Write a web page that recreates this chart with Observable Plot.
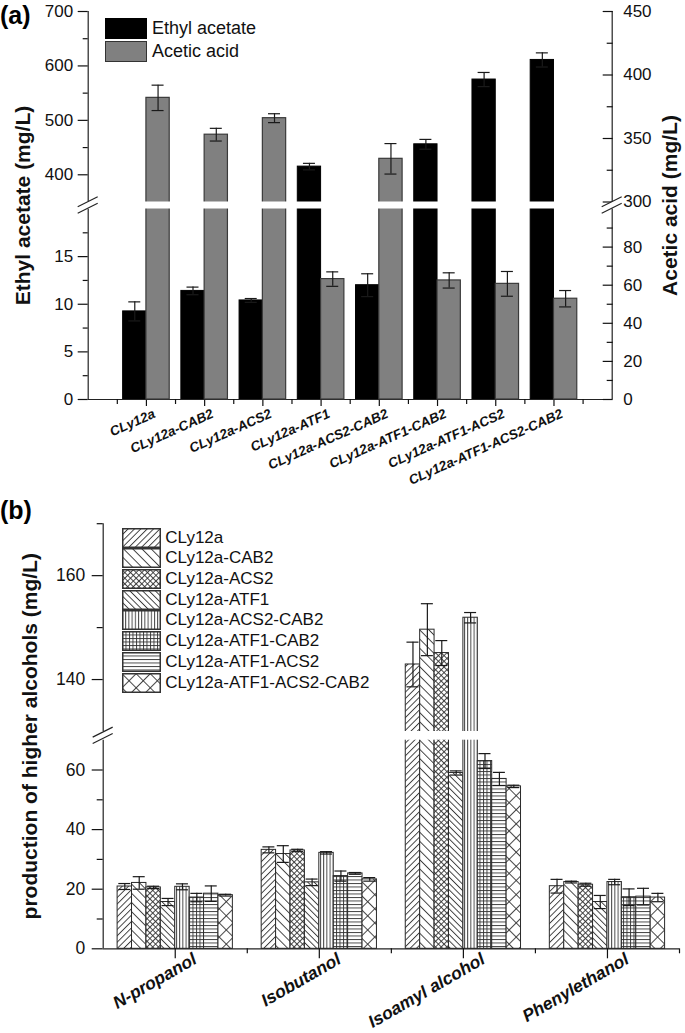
<!DOCTYPE html>
<html><head><meta charset="utf-8">
<script src="https://cdn.jsdelivr.net/npm/d3@7"></script>
<script src="https://cdn.jsdelivr.net/npm/@observablehq/plot@0.6"></script>
<style>
body{margin:0;background:#fff;}
#wrap{position:relative;width:685px;height:1033px;font-family:"Liberation Sans",Arial,sans-serif;overflow:hidden;background:#fff;}
.layer{position:absolute;left:0;}
.plabel{position:absolute;font-weight:bold;font-size:25px;line-height:1;}
.lg{position:absolute;font-size:18px;color:#111;}
.lg .row{position:absolute;left:0;display:flex;align-items:center;white-space:nowrap;}
.lg .sw{box-sizing:border-box;border:1.5px solid #333;margin-right:5px;}
</style></head><body>
<div id="wrap">
<svg width="0" height="0" style="position:absolute">
<defs>
<pattern id="p0" patternUnits="userSpaceOnUse" width="4.5" height="4.5" patternTransform="rotate(45)"><rect width="4.5" height="4.5" fill="#fff"/><line x1="0.5" y1="0" x2="0.5" y2="4.5" stroke="#333" stroke-width="0.9"/></pattern>
<pattern id="p1" patternUnits="userSpaceOnUse" width="6.5" height="6.5" patternTransform="rotate(-45)"><rect width="6.5" height="6.5" fill="#fff"/><line x1="0.5" y1="0" x2="0.5" y2="6.5" stroke="#333" stroke-width="0.9"/></pattern>
<pattern id="p2" patternUnits="userSpaceOnUse" width="4" height="4" patternTransform="rotate(45)"><rect width="4" height="4" fill="#fff"/><line x1="0.5" y1="0" x2="0.5" y2="4" stroke="#333" stroke-width="0.9"/><line x1="0" y1="0.5" x2="4" y2="0.5" stroke="#333" stroke-width="0.9"/></pattern>
<pattern id="p3" patternUnits="userSpaceOnUse" width="4.5" height="4.5" patternTransform="rotate(-45)"><rect width="4.5" height="4.5" fill="#fff"/><line x1="0.5" y1="0" x2="0.5" y2="4.5" stroke="#333" stroke-width="0.9"/></pattern>
<pattern id="p4" patternUnits="userSpaceOnUse" width="3.2" height="3.2"><rect width="3.2" height="3.2" fill="#fff"/><line x1="0.5" y1="0" x2="0.5" y2="3.2" stroke="#333" stroke-width="0.9"/></pattern>
<pattern id="p5" patternUnits="userSpaceOnUse" width="3.5" height="3.5"><rect width="3.5" height="3.5" fill="#fff"/><line x1="0.5" y1="0" x2="0.5" y2="3.5" stroke="#333" stroke-width="0.9"/><line x1="0" y1="0.5" x2="3.5" y2="0.5" stroke="#333" stroke-width="0.9"/></pattern>
<pattern id="p6" patternUnits="userSpaceOnUse" width="3.5" height="3.5"><rect width="3.5" height="3.5" fill="#fff"/><line x1="0" y1="0.5" x2="3.5" y2="0.5" stroke="#333" stroke-width="0.9"/></pattern>
<pattern id="p7" patternUnits="userSpaceOnUse" width="10" height="10" patternTransform="rotate(45)"><rect width="10" height="10" fill="#fff"/><line x1="0.5" y1="0" x2="0.5" y2="10" stroke="#333" stroke-width="0.9"/><line x1="0" y1="0.5" x2="10" y2="0.5" stroke="#333" stroke-width="0.9"/></pattern>
</defs>
</svg>
<div id="a1" class="layer" style="top:0"></div>
<div id="a2" class="layer" style="top:0"></div>
<div id="b1" class="layer" style="top:505px"></div>
<div class="plabel" style="left:0;top:3px">(a)</div>
<div class="plabel" style="left:0;top:498px">(b)</div>
<div id="legA" class="lg" style="left:105px;top:17.7px"></div>
<div id="legB" class="lg" style="left:122.3px;top:527.7px;font-size:17px"></div>
</div>
<script>
// ---------- data: panel (a) ----------
const strains = ["CLy12a","CLy12a-CAB2","CLy12a-ACS2","CLy12a-ATF1","CLy12a-ACS2-CAB2","CLy12a-ATF1-CAB2","CLy12a-ATF1-ACS2","CLy12a-ATF1-ACS2-CAB2"];
const ethylAcetate    = [9.25, 11.4, 10.4, 415, 12.0, 456, 575, 611];
const ethylAcetateErr = [1.0, 0.4, 0.2, 6, 1.2, 9, 13, 13];
const aceticAcid      = [382, 353, 366, 63.2, 334, 62.5, 60.7, 52.9];
const aceticAcidErr   = [10, 5, 3.5, 3.8, 12, 4, 6.5, 4.3];
const ethylTicks  = [0, 5, 10, 15, 400, 500, 600, 700];
const ethylMinor  = [2.5, 7.5, 12.5, 17.5, 450, 550, 650];
const aceticTicks = [0, 20, 40, 60, 80, 300, 350, 400, 450];
const aceticMinor = [10, 30, 50, 70, 90, 325, 375, 425];
const ethylBreak  = [20, 350];
const aceticBreak = [100, 300];
const seriesA = ["Ethyl acetate", "Acetic acid"];

// ---------- data: panel (b) ----------
const alcohols = ["N-propanol", "Isobutanol", "Isoamyl alcohol", "Phenylethanol"];
const nPropanol        = [20.9, 22.1, 20.6, 15.7, 20.8, 17.2, 18.5, 18.0];
const nPropanolErr     = [1.0, 2.1, 0.4, 1.2, 1.0, 1.4, 2.6, 0.3];
const isobutanol       = [33.2, 31.8, 33.0, 22.3, 32.2, 24.4, 25.3, 23.3];
const isobutanolErr    = [1.0, 2.8, 0.4, 1.1, 0.4, 1.7, 0.3, 0.6];
const isoamylAlcohol   = [142.9, 149.6, 145.1, 59.0, 151.9, 63.0, 57.0, 54.5];
const isoamylAlcoholErr= [4.3, 5.0, 2.4, 0.7, 1.0, 2.5, 2.2, 0.4];
const phenylethanol    = [21.0, 22.4, 21.5, 15.7, 22.4, 17.3, 17.5, 17.2];
const phenylethanolErr = [2.3, 0.3, 0.5, 2.2, 0.9, 2.8, 2.8, 1.4];
const alcoholTicks = [0, 20, 40, 60, 140, 160];
const alcoholMinor = [10, 30, 50, 150, 170];
const alcoholBreak = [70, 130];
const patterns = ["url(#p0)","url(#p1)","url(#p2)","url(#p3)","url(#p4)","url(#p5)","url(#p6)","url(#p7)"];

const FONT = '"Liberation Sans", Arial, sans-serif';

// ---------- panel (a) layout ----------
const AH = 505, AT = 11, AB = 399, AGT = 201.5, AGB = 208.5;
const aLeft = 87.7, aRight = 73.3;
const capA = 6 / ((685 - aLeft - aRight) / 9);

const ethylRows = strains.map((s, i) => ({strain: s, x1: i + 0.6, x2: i + 1, xc: i + 0.8, v: ethylAcetate[i], e: ethylAcetateErr[i]}));
const aceticRows = strains.map((s, i) => ({strain: s, x1: i + 1, x2: i + 1.4, xc: i + 1.2, v: aceticAcid[i], e: aceticAcidErr[i]}));
const centers = strains.map((s, i) => i + 1);
const bounds = d3.range(0, strains.length + 1).map(i => i + 0.5);

const commonA = {
  width: 685, height: AH, marginLeft: aLeft, marginRight: aRight, marginTop: AT, marginBottom: AH - AB,
  x: {type: "linear", domain: [0, strains.length + 1], axis: null}
};

function errMarks(rows, cap) {
  return [
    Plot.ruleX(rows, {x: "xc", y1: d => d.v - d.e, y2: d => d.v + d.e, stroke: "#1a1a1a", strokeWidth: 1.2}),
    Plot.ruleY(rows, {x1: d => d.xc - cap, x2: d => d.xc + cap, y: d => d.v + d.e, stroke: "#1a1a1a", strokeWidth: 1.2}),
    Plot.ruleY(rows, {x1: d => d.xc - cap, x2: d => d.xc + cap, y: d => d.v - d.e, stroke: "#1a1a1a", strokeWidth: 1.2})
  ];
}

const plotA1 = Plot.plot({
  ...commonA,
  style: {fontFamily: FONT, background: "white", color: "#111"},
  y: {type: "linear", domain: [0, ethylBreak[0], ethylBreak[1], 700], range: [AB, AGB, AGT, AT]},
  marks: [
    Plot.rect(ethylRows, {x1: "x1", x2: "x2", y1: 0, y2: "v", fill: "#000", stroke: "#000"}),
    ...errMarks(ethylRows, capA),
    Plot.ruleX([0], {y1: 0, y2: ethylBreak[0], stroke: "#222", strokeWidth: 1.2}),
    Plot.ruleX([0], {y1: ethylBreak[1], y2: 700, stroke: "#222", strokeWidth: 1.2}),
    Plot.ruleY([0], {stroke: "#222", strokeWidth: 1.2}),
    Plot.axisY({ticks: ethylTicks, tickSize: 10, tickPadding: 5, fontSize: 17, label: null, tickFormat: d => String(d), strokeWidth: 1.2}),
    Plot.axisY({ticks: ethylMinor, tickSize: 5, label: null, tickFormat: () => "", strokeWidth: 1.2}),
    Plot.axisX({ticks: centers, tickSize: 7, label: null, tickFormat: () => "", strokeWidth: 1.2}),
    Plot.axisX({ticks: centers, tickSize: 0, tickPadding: 13.6, label: null, tickFormat: i => strains[i - 1], tickRotate: -24, fontSize: 13.5, fontWeight: "bold", fontStyle: "italic", dx: 8, stroke: "none"}),
    Plot.axisX({ticks: bounds, tickSize: 5, label: null, tickFormat: () => "", strokeWidth: 1.2}),
    Plot.text(["Ethyl acetate (mg/L)"], {frameAnchor: "left", textAnchor: "middle", rotate: -90, dx: 23 - aLeft, fontSize: 21, fontWeight: "bold"})
  ]
});
document.getElementById("a1").appendChild(plotA1);

const plotA2 = Plot.plot({
  ...commonA,
  style: {fontFamily: FONT, background: "transparent", color: "#111"},
  y: {type: "linear", domain: [0, aceticBreak[0], aceticBreak[1], 450], range: [AB, AGB, AGT, AT]},
  marks: [
    Plot.rect(aceticRows, {x1: "x1", x2: "x2", y1: 0, y2: "v", fill: "#808080", stroke: "#3a3a3a", strokeWidth: 1.2}),
    ...errMarks(aceticRows, capA),
    Plot.rect([aceticBreak], {x1: -0.12, x2: strains.length + 1.1, y1: d => d[0], y2: d => d[1], fill: "white"}),
    Plot.ruleX([strains.length + 1], {y1: 0, y2: aceticBreak[0], stroke: "#222", strokeWidth: 1.2}),
    Plot.ruleX([strains.length + 1], {y1: aceticBreak[1], y2: 450, stroke: "#222", strokeWidth: 1.2}),
    Plot.axisY({anchor: "right", ticks: aceticTicks, tickSize: -10, tickPadding: 21, fontSize: 17, label: null, tickFormat: d => String(d), strokeWidth: 1.2}),
    Plot.axisY({anchor: "right", ticks: aceticMinor, tickSize: -6, label: null, tickFormat: () => "", strokeWidth: 1.2}),
    Plot.text(["Acetic acid (mg/L)"], {frameAnchor: "right", textAnchor: "middle", rotate: -90, dx: 669.5 - (685 - aRight), fontSize: 21, fontWeight: "bold"})
  ]
});
document.getElementById("a2").appendChild(plotA2);

function breakMarks(plot, xv, yLow, yHigh) {
  const sx = plot.scale("x"), sy = plot.scale("y");
  const X = sx.apply(xv), mid = (sy.apply(yLow) + sy.apply(yHigh)) / 2;
  const g = d3.select(plot).append("g").attr("stroke", "#222").attr("stroke-width", 1.2);
  g.append("polygon").attr("points", `${X-10},${mid+8} ${X+10},${mid-2} ${X+10},${mid-8} ${X-10},${mid+2}`).attr("fill", "white").attr("stroke", "none");
  for (const off of [-3.2, 3.2]) {
    g.append("line").attr("x1", X - 10).attr("y1", mid + off + 5).attr("x2", X + 10).attr("y2", mid + off - 5);
  }
}
breakMarks(plotA2, 0, aceticBreak[0], aceticBreak[1]);
breakMarks(plotA2, strains.length + 1, aceticBreak[0], aceticBreak[1]);

// legend (a)
const legA = document.getElementById("legA");
[["#000", "#000"], ["#808080", "#333"]].forEach(([f, s], i) => {
  const r = document.createElement("div");
  r.className = "row"; r.style.top = (i * 23.4) + "px"; r.style.height = "21px";
  r.innerHTML = `<div class="sw" style="width:42px;height:21px;background:${f};border-color:${s}"></div><span>${seriesA[i]}</span>`;
  legA.appendChild(r);
});

// ---------- panel (b) ----------
const BH = 528, BT = 18.2, BB = 443.3, BGT = 226, BGB = 234.7;
const bLeft = 102.7, bRight = 6;
const capB = 6 / ((685 - bLeft - bRight) / 4);
const alcoholValues = [nPropanol, isobutanol, isoamylAlcohol, phenylethanol];
const alcoholErrors = [nPropanolErr, isobutanolErr, isoamylAlcoholErr, phenylethanolErr];
const rowsB = [];
alcohols.forEach((a, g) => strains.forEach((s, j) => {
  const x1 = g + 0.1 + 0.1 * j;
  rowsB.push({alcohol: a, strain: s, x1, x2: x1 + 0.1, xc: x1 + 0.05, v: alcoholValues[g][j], e: alcoholErrors[g][j]});
}));
const centersB = alcohols.map((a, g) => g + 0.5);
const boundsB = alcohols.map((a, g) => g + 1);

const plotB = Plot.plot({
  width: 685, height: BH, marginLeft: bLeft, marginRight: bRight, marginTop: BT, marginBottom: BH - BB,
  style: {fontFamily: FONT, background: "transparent", color: "#111"},
  x: {type: "linear", domain: [0, alcohols.length], axis: null},
  y: {type: "linear", domain: [0, alcoholBreak[0], alcoholBreak[1], 170], range: [BB, BGB, BGT, BT]},
  color: {type: "ordinal", domain: strains, range: patterns},
  marks: [
    Plot.rect(rowsB, {x1: "x1", x2: "x2", y1: 0, y2: "v", fill: "strain", stroke: "#2a2a2a", strokeWidth: 1}),
    ...errMarks(rowsB, capB),
    Plot.rect([alcoholBreak], {x1: -0.05, x2: alcohols.length, y1: d => d[0], y2: d => d[1], fill: "white"}),
    Plot.ruleX([0], {y1: 0, y2: alcoholBreak[0], stroke: "#222", strokeWidth: 1.2}),
    Plot.ruleX([0], {y1: alcoholBreak[1], y2: 170, stroke: "#222", strokeWidth: 1.2}),
    Plot.ruleY([0], {stroke: "#222", strokeWidth: 1.2}),
    Plot.axisY({ticks: alcoholTicks, tickSize: 11, tickPadding: 7, fontSize: 17.5, label: null, tickFormat: d => String(d), strokeWidth: 1.2}),
    Plot.axisY({ticks: alcoholMinor, tickSize: 6, label: null, tickFormat: () => "", strokeWidth: 1.2}),
    Plot.axisX({ticks: centersB, tickSize: 10, label: null, tickFormat: () => "", strokeWidth: 1.2}),
    Plot.axisX({ticks: centersB, tickSize: 0, tickPadding: 9, label: null, tickFormat: v => alcohols[Math.floor(v)], tickRotate: -30, fontSize: 17.5, fontWeight: "bold", fontStyle: "italic", dx: 20, stroke: "none"}),
    Plot.axisX({ticks: boundsB, tickSize: 5, label: null, tickFormat: () => "", strokeWidth: 1.2}),
    Plot.text(["production of higher alcohols (mg/L)"], {frameAnchor: "left", textAnchor: "middle", rotate: -90, dx: 29.5 - bLeft, fontSize: 21, fontWeight: "bold"})
  ]
});
document.getElementById("b1").appendChild(plotB);
breakMarks(plotB, 0, alcoholBreak[0], alcoholBreak[1]);

// legend (b)
const legB = document.getElementById("legB");
strains.forEach((s, i) => {
  const r = document.createElement("div");
  r.className = "row"; r.style.top = (i * 20.7) + "px"; r.style.height = "20px";
  r.innerHTML = `<svg width="39" height="20" style="margin-right:4px;display:block"><rect x="0.75" y="0.75" width="37.5" height="18.5" fill="${patterns[i]}" stroke="#333" stroke-width="1.5"/></svg><span>${s}</span>`;
  legB.appendChild(r);
});
</script>
</body></html>
